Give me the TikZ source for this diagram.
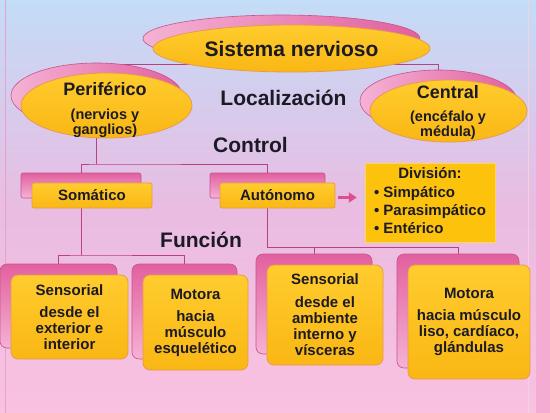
\documentclass[tikz,border=0pt]{standalone}
\usepackage{fontspec}
\setmainfont{Liberation Sans}
\usetikzlibrary{shapes.geometric, positioning, arrows.meta}
\definecolor{ink}{HTML}{1C1A24}
\definecolor{goldtop}{HTML}{FFCC2E}
\definecolor{goldbot}{HTML}{F9B714}
\definecolor{goldline}{HTML}{E79A50}
\definecolor{divgold}{HTML}{FDC30C}
\definecolor{rosedark}{HTML}{E2609E}
\definecolor{roselight}{HTML}{F5B2D5}
\definecolor{roseline}{HTML}{C4548F}
\definecolor{linkcol}{HTML}{B8427F}
\definecolor{arrowcol}{HTML}{DE4F8D}
\definecolor{skytop}{HTML}{C3DCF7}
\definecolor{skymid}{HTML}{E9BCE2}
\definecolor{skybot}{HTML}{FAC1E0}
\definecolor{edgepink}{HTML}{E6A2C8}
\definecolor{stripe}{HTML}{F4ACD2}
\pgfdeclarelayer{bg}
\pgfdeclarelayer{links}
\pgfsetlayers{bg,links,main}
\tikzset{
x=1pt, y=-1pt, % pixel coordinates, y runs down
every node/.style={text=ink, font=\bfseries},
shadow/.style={draw=roseline, line width=0.6pt, top color=rosedark, bottom color=roselight}, % pink shape behind
ovalshadow/.style={draw=roseline, line width=0.6pt, left color=roselight, right color=rosedark}, % pink oval behind
front/.style={draw=goldline, line width=0.8pt, top color=goldtop, bottom color=goldbot}, % yellow shape in front
oval/.style={ellipse, inner sep=0pt},
tag/.style={rectangle, rounded corners=2pt, inner sep=0pt, font=\fontsize{15}{16}\bfseries\selectfont},
card/.style={rectangle, rounded corners=7pt, inner sep=0pt, align=center, font=\fontsize{15}{16}\bfseries\selectfont},
link/.style={draw=linkcol, line width=0.9pt},
heading/.style={font=\fontsize{21}{24}\bfseries\selectfont, anchor=base},
bigarrow/.style={draw=arrowcol, line width=3.5pt, -{Triangle[length=8pt,width=10pt]}},
}

\begin{document}
\begin{tikzpicture}
  \useasboundingbox (0,0) rectangle (550,413);
  \begin{pgfonlayer}{bg}
    \shade[top color=skytop, bottom color=skybot, middle color=skymid] (0,0) rectangle (550,413);
    \draw[edgepink, line width=0.8pt] (5,0) -- (5,413);
    \draw[white!50!edgepink, line width=1pt] (528,0) -- (528,413);
    \fill[stripe] (536,0) rectangle (550,413);
  \end{pgfonlayer}

  % Localizacion
  \node[oval, ovalshadow, minimum width=277pt, minimum height=47pt] (snB) at (281.5,38.5) {};
  \node[oval, front, minimum width=277pt, minimum height=47pt] (sn) at (291.5,48.5) {};
  \node[font=\fontsize{21}{24}\bfseries\selectfont] (snT) at (sn) {Sistema nervioso};

  \node[oval, ovalshadow, minimum width=171pt, minimum height=65pt] (perB) at (96.5,95.5) {};
  \node[oval, front, minimum width=171pt, minimum height=65pt] (per) at (106.5,105.5) {};
  \node[align=center, font=\fontsize{14.5}{15}\bfseries\selectfont] (perT) at (105,110)
    {\fontsize{18}{20}\selectfont Periférico\\[9.5pt] (nervios y\\ ganglios)};

  \node[oval, ovalshadow, minimum width=157pt, minimum height=62pt] (cenB) at (438.5,101) {};
  \node[oval, front, minimum width=157pt, minimum height=62pt] (cen) at (448.5,111) {};
  \node[align=center, font=\fontsize{14.5}{15}\bfseries\selectfont] (cenT) at (448,112.3)
    {\fontsize{18}{20}\selectfont Central\\[7.5pt] (encéfalo y\\ médula)};

  \node[heading] (loc) at (283.5,105.5) {Localización};
  \node[heading] (ctl) at (250.5,152.5) {Control};
  \node[heading] (fun) at (201,247.5) {Función};

  % Control
  \node[tag, shadow, minimum width=120pt, minimum height=25pt] (somB) at (81,185.5) {};
  \node[tag, front, minimum width=120pt, minimum height=25pt] (som) at (92,195.5) {Somático};
  \node[tag, shadow, minimum width=115pt, minimum height=25pt] (autB) at (267.5,185.5) {};
  \node[tag, front, minimum width=115pt, minimum height=25pt] (aut) at (277.5,195.5) {Autónomo};

  \node[fill=divgold, draw=divgold!70!white, inner sep=0pt, minimum width=130pt, minimum height=79pt,
        font=\fontsize{15}{18.3}\bfseries\selectfont] (div) at (430,202.5)
    {\begin{tabular}{@{}l@{}}\multicolumn{1}{@{}c@{}}{División:}\\ • Simpático\\ • Parasimpático\\ • Entérico\end{tabular}};
  \draw[bigarrow, shorten <=3pt, shorten >=8pt] ([yshift=-2pt]aut.east) -- ([yshift=-2pt]aut.east -| div.west);

  % Funcion
  \node[card, shadow, minimum width=117pt, minimum height=84pt] (sensB1) at (58.5,306) {};
  \node[card, front, minimum width=117pt, minimum height=84pt] (sens1) at (69.5,317)
    {Sensorial\\[6pt] desde el\\ exterior e\\ interior};
  \node[card, shadow, minimum width=105pt, minimum height=95pt] (motB1) at (184.5,311.5) {};
  \node[card, front, minimum width=105pt, minimum height=95pt] (mot1) at (195.5,322.5)
    {Motora\\[6pt] hacia\\ músculo\\ esquelético};
  \node[card, shadow, minimum width=116pt, minimum height=100pt] (sensB2) at (314,304) {};
  \node[card, front, minimum width=116pt, minimum height=100pt] (sens2) at (325,315)
    {Sensorial\\[7pt] desde el\\ ambiente\\ interno y\\ vísceras};
  \node[card, shadow, minimum width=122pt, minimum height=114pt] (motB2) at (458,311) {};
  \node[card, front, minimum width=122pt, minimum height=114pt] (mot2) at (469,322)
    {Motora\\[6pt] hacia músculo\\ liso, cardíaco,\\ glándulas};

  \begin{pgfonlayer}{links}
    \coordinate (bar1) at (0,64);
    \draw[link] (perB.center) |- (bar1 -| cenB.center) -- (cenB.center);
    \coordinate (bar2) at (96.5,164);
    \draw[link] (perB.center) -- (bar2);
    \draw[link] (somB.center) |- (bar2) -| (autB.center);
    \coordinate (bar3) at (81,255);
    \draw[link] (somB.center) -- (bar3);
    \draw[link] (sensB1.center) |- (bar3) -| (motB1.center);
    \coordinate (bar4) at (267.5,247);
    \draw[link] (autB.center) -- (bar4) -| (motB2.center);
    \draw[link] (sensB2.center) -- (sensB2.center |- bar4);
  \end{pgfonlayer}
\end{tikzpicture}
\end{document}
